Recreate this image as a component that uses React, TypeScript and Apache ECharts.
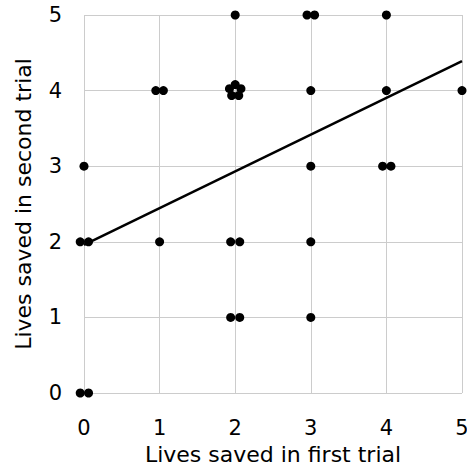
import React, { useEffect, useRef } from "react";
import * as echarts from "echarts";

const firstTrial = [
  2, 2.95, 3.05, 4,
  0.95, 1.05, 2.0, 2.076, 2.047, 1.953, 1.924, 3, 4, 5,
  0, 3, 3.95, 4.06,
  -0.05, 0.06, 1, 1.94, 2.06, 3,
  1.94, 2.06, 3,
  -0.05, 0.06,
];
const secondTrial = [
  5, 5, 5, 5,
  4, 4, 4.08, 4.025, 3.935, 3.935, 4.025, 4, 4, 4,
  3, 3, 3, 3,
  2, 2, 2, 2, 2, 2,
  1, 1, 1,
  0, 0,
];
const fitX = [0, 5];
const fitY = [1.96, 4.39];
const ticks = [0, 1, 2, 3, 4, 5];

const FONT = "DejaVu Sans";

export default function App() {
  const ref = useRef<HTMLDivElement>(null);
  useEffect(() => {
    if (!ref.current) return;
    const chart = echarts.init(ref.current, undefined, { renderer: "svg" });
    const axisCommon = {
      type: "value" as const,
      min: ticks[0],
      max: ticks[ticks.length - 1],
      interval: 1,
      axisLine: { show: false },
      axisTick: { show: false },
      splitLine: { show: true, lineStyle: { color: "#cccccc", width: 1 } },
      axisLabel: { color: "#000", fontFamily: FONT, fontSize: 21 },
      nameLocation: "middle" as const,
      nameTextStyle: { color: "#000", fontFamily: FONT, fontSize: 22 },
    };
    chart.setOption({
      animation: false,
      grid: {
        left: 84,
        right: 5,
        top: 15,
        bottom: 74,
        containLabel: false,
        outerBoundsMode: "none",
      },
      xAxis: {
        ...axisCommon,
        axisLabel: { ...axisCommon.axisLabel, margin: 24 },
        name: "Lives saved in first trial",
        nameGap: 50,
      },
      yAxis: {
        ...axisCommon,
        axisLabel: { ...axisCommon.axisLabel, margin: 22 },
        name: "Lives saved in second trial",
        nameGap: 50,
      },
      series: [
        {
          type: "line",
          data: fitX.map((x, i) => [x, fitY[i]]),
          symbol: "none",
          lineStyle: { color: "#000", width: 2.5 },
          z: 2,
        },
        {
          type: "scatter",
          data: firstTrial.map((x, i) => [x, secondTrial[i]]),
          symbol: "circle",
          symbolSize: 9,
          itemStyle: { color: "#000", opacity: 1 },
          clip: false,
          z: 3,
        },
      ],
    });
    return () => chart.dispose();
  }, []);
  return <div ref={ref} style={{ width: 467, height: 467, position: "absolute", left: 0, top: 0 }} />;
}
